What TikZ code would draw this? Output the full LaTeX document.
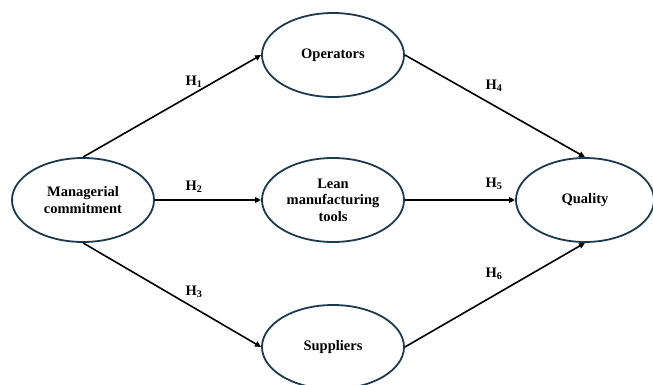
\documentclass[tikz,border=0pt]{standalone}
\usepackage{fontspec}
\setmainfont{Liberation Serif}
\usetikzlibrary{shapes.geometric, arrows.meta, positioning}
\definecolor{rim}{HTML}{1C3A4E}

\begin{document}
\begin{tikzpicture}[x=1pt, y=-1pt,
    construct/.style={ellipse, draw=rim, line width=1.8pt, minimum width=142pt, minimum height=84pt, inner sep=0pt, align=center, font=\fontsize{14.5}{16.5}\selectfont\bfseries},
    link/.style={-{Triangle[length=6pt, width=5.5pt]}, line width=1.6pt},
    hyp/.style={font=\fontsize{14.5}{16}\selectfont\bfseries}]
    \useasboundingbox (0,0) rectangle (653,385);

    \node[construct] (mc) at (83, 200) {Managerial\\commitment};
    \node[construct] (op) at (333, 55) {Operators};
    \node[construct] (lt) at (333, 200) {Lean\\manufacturing\\tools};
    \node[construct] (su) at (333, 347) {Suppliers};
    \node[construct, minimum width=138pt] (qu) at (585, 200) {Quality};

    \node[hyp] (h1) at (194, 82) {H\textsubscript{1}};
    \node[hyp] (h2) at (194, 187) {H\textsubscript{2}};
    \node[hyp] (h3) at (194, 292) {H\textsubscript{3}};
    \node[hyp] (h4) at (494, 86) {H\textsubscript{4}};
    \node[hyp] (h5) at (494, 184) {H\textsubscript{5}};
    \node[hyp] (h6) at (494, 274) {H\textsubscript{6}};

    \draw
    (mc.north) edge[link] (op.west)
    (mc.east) edge[link] (lt.west)
    (mc.south) edge[link] (su.west)
    (op.east) edge[link] (qu.north)
    (lt.east) edge[link] (qu.west)
    (su.east) edge[link] (qu.south);
\end{tikzpicture}
\end{document}
